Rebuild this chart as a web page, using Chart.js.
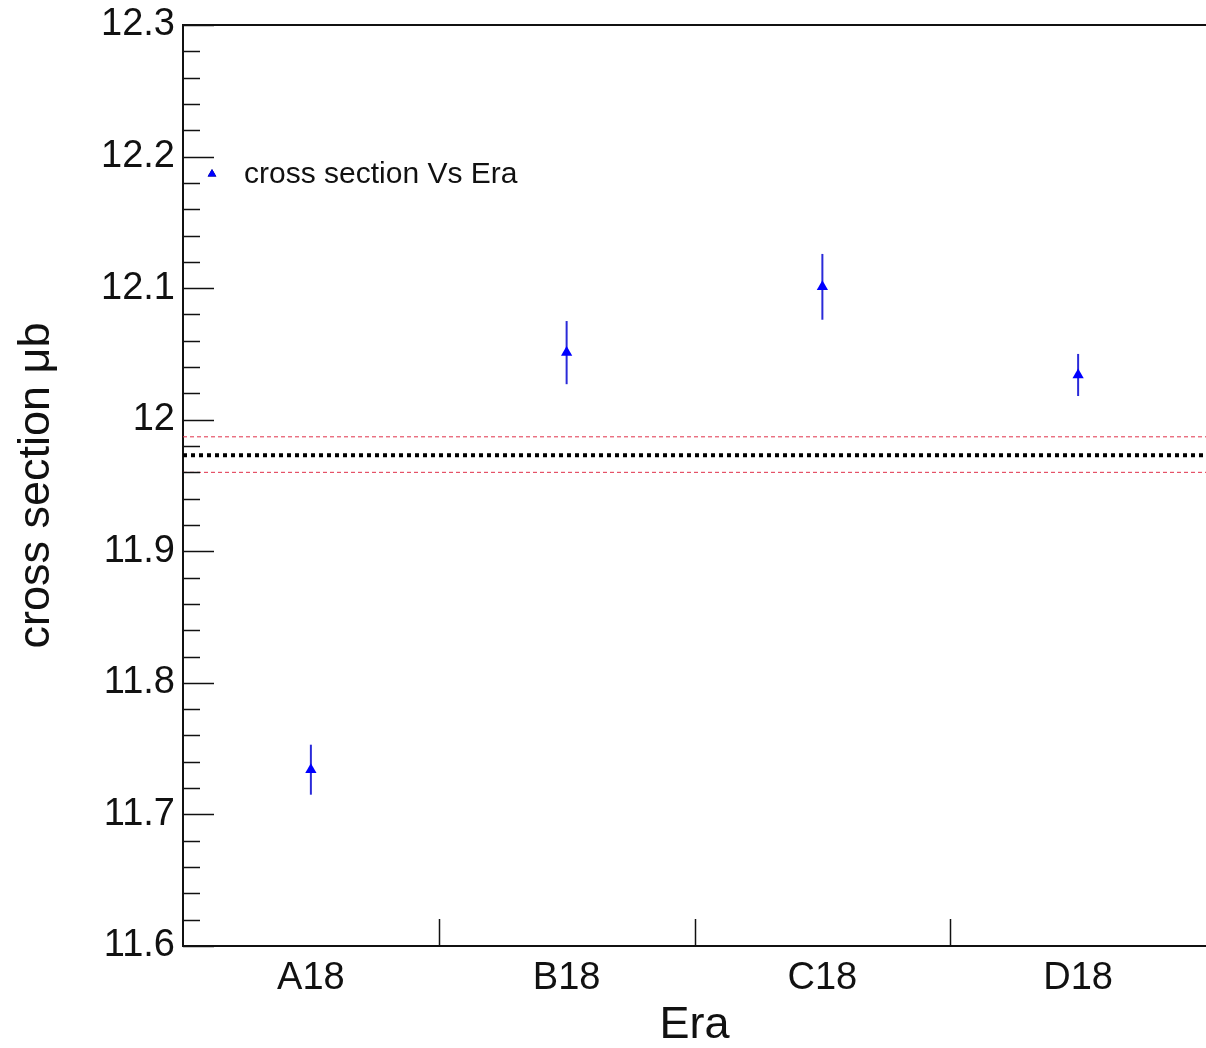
<!DOCTYPE html>
<html>
<head>
<meta charset="utf-8">
<script src="https://cdn.jsdelivr.net/npm/chart.js@4.4.0/dist/chart.umd.min.js"></script>
<style>
body{margin:0;background:#fff}
canvas{display:block}
</style>
</head>
<body>
<canvas id="xsecChart" width="1206" height="1048"></canvas>
<script>

const eras = ["A18","B18","C18","D18"]
const xsec = [11.734, 12.051, 12.101, 12.034]
const xsecErr = [0.019, 0.024, 0.025, 0.016]

const meanValue = 11.973
const meanLow = 11.960
const meanHigh = 11.987

const yMin = 11.6
const yMax = 12.3
const yStep = 0.02

const FONT = "'Liberation Sans', Arial, Helvetica, sans-serif"

/* ---------------- PLUGINS ---------------- */

// error bars drawn under the markers
const errorBars = {
id:"errorBars",
beforeDatasetsDraw(chart){
const ctx = chart.ctx
const xs = chart.scales.x
const ys = chart.scales.y
ctx.save()
ctx.strokeStyle = "#2a2ad8"
ctx.lineWidth = 2
xsec.forEach((v,i)=>{
const px = xs.getPixelForValue(i+0.5)
ctx.beginPath()
ctx.moveTo(px, ys.getPixelForValue(v-xsecErr[i]))
ctx.lineTo(px, ys.getPixelForValue(v+xsecErr[i]))
ctx.stroke()
})
ctx.restore()
}
}

// ROOT style frame: inward ticks, top line, bin dividers, legend
const rootFrame = {
id:"rootFrame",
afterDraw(chart){
const ctx = chart.ctx
const area = chart.chartArea
const xs = chart.scales.x
const ys = chart.scales.y
ctx.save()
ctx.strokeStyle = "#111"
ctx.lineWidth = 1.5

ys.ticks.forEach(t=>{
const py = Math.round(ys.getPixelForValue(t.value))+0.5
const major = Math.abs(t.value*10 - Math.round(t.value*10)) < 1e-6
ctx.beginPath()
ctx.moveTo(area.left, py)
ctx.lineTo(area.left + (major ? 31 : 17), py)
ctx.stroke()
})

for(let i=1;i<eras.length;i++){
const px = Math.round(xs.getPixelForValue(i))+0.5
ctx.beginPath()
ctx.moveTo(px, area.bottom)
ctx.lineTo(px, area.bottom-27)
ctx.stroke()
}

ctx.lineWidth = 2
ctx.beginPath()
ctx.moveTo(area.left, area.top)
ctx.lineTo(area.right, area.top)
ctx.stroke()

// legend
Chart.helpers.drawPoint(ctx,{pointStyle:"triangle",radius:5,rotation:0,borderWidth:0},212,174)
ctx.fillStyle = "#0000ff"
ctx.fill()
ctx.fillStyle = "#111"
ctx.font = "30px " + FONT
ctx.textBaseline = "middle"
ctx.textAlign = "left"
ctx.fillText("cross section Vs Era", 244, 175)

ctx.restore()
}
}

/* ---------------- CHART ---------------- */

new Chart(document.getElementById("xsecChart"),{

data:{
datasets:[

{
type:"scatter",
label:"cross section Vs Era",
data:xsec.map((v,i)=>({x:i+0.5,y:v})),
pointStyle:"triangle",
pointRadius:6.5,
pointBackgroundColor:"#0000ff",
pointBorderColor:"#0000ff",
pointBorderWidth:0,
order:0
},

{
type:"line",
label:"mean",
data:[{x:0,y:meanValue},{x:eras.length,y:meanValue}],
borderColor:"#000",
borderWidth:4,
borderDash:[4,4],
pointRadius:0,
order:1
},

{
type:"line",
label:"mean high",
data:[{x:0,y:meanHigh},{x:eras.length,y:meanHigh}],
borderColor:"#e0304a",
borderWidth:1,
borderDash:[4,3],
pointRadius:0,
order:2
},

{
type:"line",
label:"mean low",
data:[{x:0,y:meanLow},{x:eras.length,y:meanLow}],
borderColor:"#e0304a",
borderWidth:1,
borderDash:[4,3],
pointRadius:0,
order:2
}

]
},

options:{
responsive:false,
animation:false,
devicePixelRatio:1,
layout:{autoPadding:false,padding:{top:25,right:0,left:0,bottom:0}},

plugins:{
legend:{display:false},
tooltip:{enabled:false}
},

scales:{

x:{
type:"linear",
min:0,
max:eras.length,
grid:{display:false,drawTicks:false},
border:{display:true,color:"#111",width:2},
afterBuildTicks:(scale)=>{
scale.ticks = eras.map((e,i)=>({value:i+0.5}))
},
afterFit:(scale)=>{
scale.height = 102
scale.paddingLeft = 0
scale.paddingRight = 0
},
ticks:{
autoSkip:false,
maxRotation:0,
padding:10,
color:"#111",
font:{family:FONT,size:38},
callback:(v)=>eras[Math.floor(v)]
},
title:{
display:true,
text:"Era",
color:"#111",
font:{family:FONT,size:45,lineHeight:1},
padding:{top:0,bottom:0}
}
},

y:{
type:"linear",
min:yMin,
max:yMax,
grid:{display:false,drawTicks:false},
border:{display:true,color:"#111",width:2},
afterFit:(scale)=>{
scale.width = 183
scale.paddingTop = 0
scale.paddingBottom = 0
},
ticks:{
stepSize:yStep,
autoSkip:false,
padding:8,
color:"#111",
font:{family:FONT,size:38},
callback:(v)=>{
if(Math.abs(v*10 - Math.round(v*10)) > 1e-6) return ""
return String(Number(v.toFixed(1)))
}
},
title:{
display:true,
text:"cross section μb",
color:"#111",
font:{family:FONT,size:45},
padding:{top:10,bottom:0}
}
}

}
},

plugins:[errorBars, rootFrame]

})

</script>
</body>
</html>
